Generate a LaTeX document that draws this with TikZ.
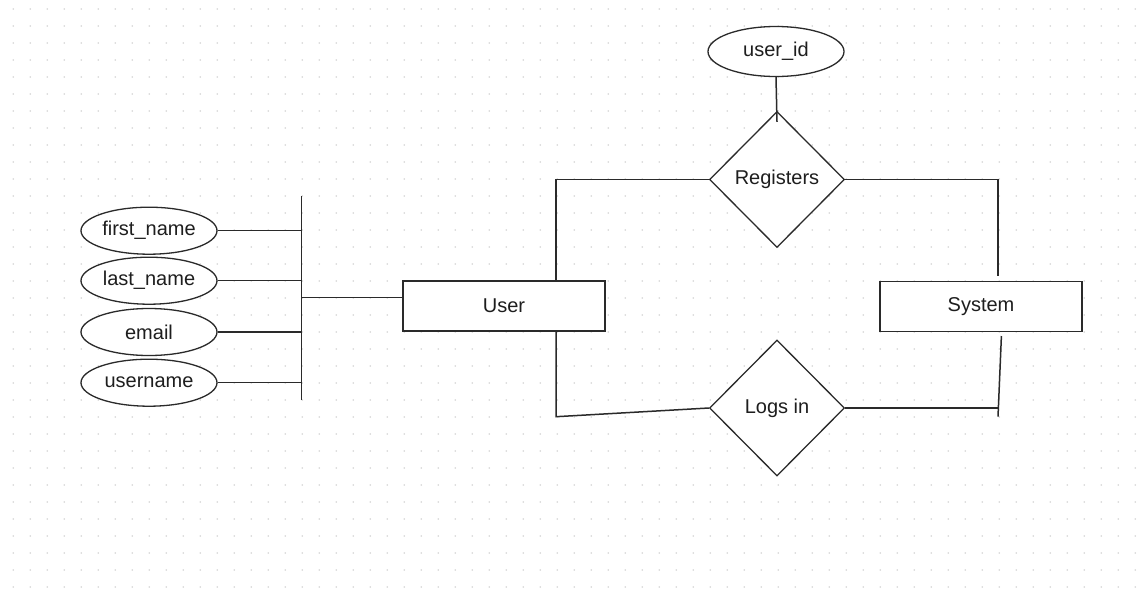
\documentclass[tikz,border=0pt]{standalone}
\usepackage{fontspec}
\setmainfont{Liberation Sans}
\usepackage{xcolor}
\usetikzlibrary{shapes.geometric}

\definecolor{linegray}{HTML}{2A2A2A}
\definecolor{textgray}{HTML}{1E1E1E}
\definecolor{dotgray}{HTML}{D4D4D4}

\begin{document}
\begin{tikzpicture}[x=1pt,y=-1pt,
            entity/.style={rectangle, draw=linegray, fill=white, minimum width=202pt, minimum height=50pt, line width=1.3pt, text=textgray},
            attrib/.style={ellipse, draw=linegray, fill=white, minimum width=136pt, minimum height=47pt, inner sep=0pt, line width=1.3pt, text=textgray},
            relation/.style={diamond, draw=linegray, fill=white, minimum width=135pt, minimum height=136pt, inner sep=0pt, line width=1.3pt, text=textgray},
            link/.style={draw=linegray, line width=1.5pt},
            font=\fontsize{20}{24}\selectfont
        ]

            % Page size and dotted grid
            \useasboundingbox (0,0) rectangle (1148,603);
            \fill[white] (0,0) rectangle (1148,603);
            \foreach \i in {0,...,66}
                \foreach \j in {0,...,34}
                    \fill[dotgray] (13.3+17*\i,9+17*\j) circle (0.9pt);

            % Attributes of User
            \node[attrib] (fname) at (149,230.7) {first\_name};
            \node[attrib] (lname) at (149,280.7) {last\_name};
            \node[attrib] (email) at (149,332) {email};
            \node[attrib] (uname) at (149,382.7) {username};

            % Entities
            \node[entity] (user) at (504,306) {User};
            \node[entity] (system) at (981,306.5) {System};

            % Relationships
            \node[relation] (registers) at (777,179.5) {Registers};
            \node[relation] (logsin) at (777,408) {Logs in};
            \node[attrib, minimum height=50pt] (userid) at (776,51.5) {user\_id};

            % Helper points for the connectors
            \coordinate (bartop) at (301.7,196);
            \coordinate (barbot) at (301.7,400);
            \coordinate (barjoin) at (301.7,297.7);
            \coordinate (ucol) at (556,0);
            \coordinate (lbend) at (556,416.7);
            \coordinate (scol) at (998,0);
            \coordinate (stop) at (998,275.7);
            \coordinate (sbot) at (998,416.7);
            \coordinate (sbotup) at (1001.4,336);

            % Attribute bar
            \draw[link] (bartop) -- (barbot);
            \foreach \a in {fname,lname,email,uname}
                \draw[link] (\a.east) -- (\a.east -| bartop);
            \draw[link] (barjoin) -- (barjoin -| user.west);

            % Registers
            \draw[link] (userid.south) -- ([yshift=-11pt]registers.north);
            \draw[link] (registers.west) -| (ucol |- user.north);
            \draw[link] (registers.east) -| (stop);

            % Logs in
            \draw[link] (ucol |- user.south) -- (lbend) -- (logsin.west);
            \draw[link] (logsin.east) -- (logsin.east -| scol);
            \draw[link] (sbotup) -- (sbot);

        \end{tikzpicture}
\end{document}
